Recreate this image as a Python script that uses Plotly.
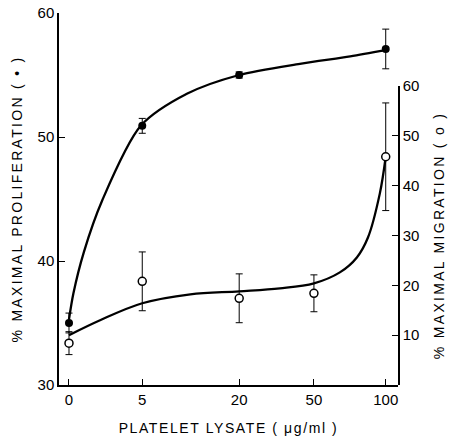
import plotly.graph_objects as go

# ---- data ----
doses = [0, 5, 20, 50, 100]
dose_tick_labels = ["0", "5", "20", "50", "100"]

# proliferation (filled circles, left axis)
prolif_doses = [0, 5, 20, 100]
prolif_vals = [35.0, 50.9, 55.0, 57.1]
prolif_err = [0.8, 0.6, 0.25, 1.6]

# migration (open circles, right axis)
migr_doses = [0, 5, 20, 50, 100]
migr_vals = [8.4, 20.8, 17.4, 18.4, 45.8]
migr_err = [2.3, 5.9, 4.9, 3.7, 10.8]

# hand-drawn fitted curves (x in axis-position units)
prolif_curve_x = [0.0, 0.06, 0.20, 0.45, 0.97, 1.60, 2.30, 3.12, 3.80, 4.28]
prolif_curve_y = [35.3, 37.4, 40.7, 44.9, 50.9, 53.5, 55.0, 55.9, 56.5, 57.0]

migr_curve_x = [0.0, 0.42, 0.99, 1.64, 2.30, 2.85, 3.31, 3.66, 3.89, 4.04, 4.20, 4.28]
migr_curve_y = [10.0, 13.0, 16.4, 18.2, 18.8, 19.4, 20.4, 22.6, 25.6, 29.6, 38.4, 45.8]

# ---- axis placement of the (non-uniform) dose ticks ----
dose_axis_pos = {0: 0.0, 5: 0.99, 20: 2.30, 50: 3.31, 100: 4.28}
tick_pos = [dose_axis_pos[d] for d in doses]

font_family = "Liberation Sans, Arial, sans-serif"


def spaced(text, px):
    return f'<span style="letter-spacing:{px}px">{text}</span>'


fig = go.Figure()

fig.add_trace(go.Scatter(
    x=prolif_curve_x, y=prolif_curve_y, mode="lines",
    line=dict(color="black", width=2.3, shape="spline", smoothing=0.8),
    yaxis="y", showlegend=False, hoverinfo="skip"))

fig.add_trace(go.Scatter(
    x=migr_curve_x, y=migr_curve_y, mode="lines",
    line=dict(color="black", width=2.3, shape="spline", smoothing=1.0),
    yaxis="y2", showlegend=False, hoverinfo="skip"))

fig.add_trace(go.Scatter(
    x=[dose_axis_pos[d] for d in prolif_doses], y=prolif_vals, mode="markers",
    marker=dict(symbol="circle", size=8, color="black"),
    error_y=dict(type="data", array=prolif_err, color="black", thickness=1, width=3.5),
    yaxis="y", showlegend=False))

fig.add_trace(go.Scatter(
    x=[dose_axis_pos[d] for d in migr_doses], y=migr_vals, mode="markers",
    marker=dict(symbol="circle", size=8, color="white", line=dict(color="black", width=1.5)),
    error_y=dict(type="data", array=migr_err, color="black", thickness=1, width=3.5),
    yaxis="y2", showlegend=False))

fig.update_layout(
    width=450, height=437,
    margin=dict(l=59, r=52, t=13, b=52, autoexpand=False),
    paper_bgcolor="white", plot_bgcolor="rgba(0,0,0,0)",
    font=dict(family=font_family, color="black", size=14),
    xaxis=dict(
        range=[-0.135, 4.446], tickmode="array", tickvals=tick_pos, ticktext=dose_tick_labels,
        showline=True, linecolor="black", linewidth=1.5, ticks="inside", ticklen=6,
        tickcolor="black", showgrid=False, zeroline=False, automargin=False,
        tickfont=dict(size=15),
        title=dict(text=spaced("PLATELET LYSATE ( μg/ml )", 1.6), font=dict(size=14), standoff=16),
        anchor="y"),
    yaxis=dict(
        range=[30, 60], tickvals=[30, 40, 50, 60],
        showline=True, linecolor="black", linewidth=1.5, ticks="inside", ticklen=6,
        tickcolor="black", showgrid=False, zeroline=False, automargin=False,
        tickfont=dict(size=15),
        title=dict(text=spaced("% MAXIMAL PROLIFERATION ( • )", 2.3), font=dict(size=14), standoff=12),
        anchor="x"),
    yaxis2=dict(
        range=[0, 60], domain=[0, 0.8038], side="right", anchor="x",
        tickvals=[10, 20, 30, 40, 50, 60],
        showline=True, linecolor="black", linewidth=1.5, ticks="inside", ticklen=6,
        tickcolor="black", showgrid=False, zeroline=False, automargin=False,
        tickfont=dict(size=15),
        title=dict(text=spaced("% MAXIMAL MIGRATION ( o )", 2.3), font=dict(size=14), standoff=16)),
)

fig.write_html("out.html", config={"displayModeBar": False},
               post_script="document.body.style.margin='0';")
